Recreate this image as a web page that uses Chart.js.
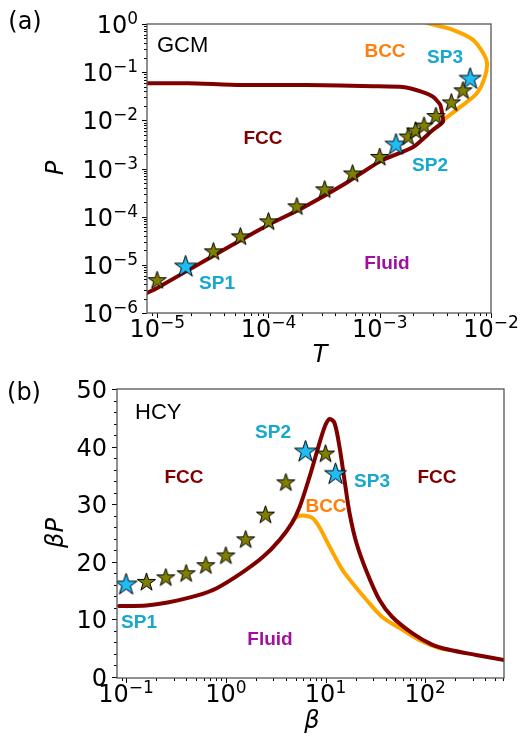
<!DOCTYPE html>
<html>
<head>
<meta charset="utf-8">
<script src="https://cdn.jsdelivr.net/npm/chart.js@4.4.0/dist/chart.umd.min.js"></script>
<style>
    body { margin: 0; background: #fff; width: 524px; height: 736px; position: relative; overflow: hidden; }
    canvas { position: absolute; left: 0; }
    #gcm-chart { top: 0; }
    #hcy-chart { top: 370px; }
</style>
</head>
<body>
<canvas id="gcm-chart" width="524" height="370"></canvas>
<canvas id="hcy-chart" width="524" height="366"></canvas>
<script>
// ---- Panel (a): GCM, P vs T (log-log) ----
const gcmStarT = [1e-5, 3.2e-5, 5.6e-5, 1e-4, 1.8e-4, 3.2e-4, 5.7e-4, 1e-3, 1.8e-3, 2.1e-3, 2.5e-3, 3.2e-3, 4.4e-3, 5.6e-3];
const gcmStarP = [4.7e-6, 1.86e-5, 3.8e-5, 7.8e-5, 1.6e-4, 3.6e-4, 7.7e-4, 1.7e-3, 4.5e-3, 6e-3, 7.6e-3, 1.2e-2, 2.3e-2, 4.1e-2];
const gcmSpT = [1.8e-5, 1.4e-3, 6.5e-3];
const gcmSpP = [9.1e-6, 3.1e-3, 7.2e-2];
const gcmFccT = [8.1e-6, 1e-5, 3.2e-5, 1e-4, 2e-4, 5e-4, 1e-3, 2e-3, 3e-3, 3.7e-3, 3.65e-3, 3.5e-3, 3.0e-3, 2.4e-3, 1.6e-3, 8.7e-4, 2.2e-4, 5.6e-5, 1.9e-5, 8.1e-6];
const gcmFccP = [2.6e-6, 3.3e-6, 1.55e-5, 6.8e-5, 1.5e-4, 5e-4, 1.4e-3, 2.8e-3, 6.3e-3, 9.3e-3, 1.3e-2, 2.1e-2, 3.1e-2, 3.9e-2, 4.9e-2, 5.1e-2, 5.4e-2, 5.4e-2, 5.9e-2, 5.9e-2];
const gcmBccT = [2.5e-3, 2.9e-3, 4.6e-3, 6.9e-3, 8.5e-3, 9.2e-3, 8.8e-3, 7.5e-3, 5.3e-3, 3.7e-3];
const gcmBccP = [1.1, 1.0, 0.75, 0.47, 0.25, 0.155, 0.079, 0.037, 0.019, 0.010];
const gcmTExps = [-5, -4, -3, -2];
const gcmPExps = [-6, -5, -4, -3, -2, -1, 0];

// ---- Panel (b): HCY, beta*P vs beta ----
const hcyStarBeta = [0.16, 0.25, 0.4, 0.63, 1.0, 1.58, 2.5, 4.0, 10];
const hcyStarBP = [16.4, 17.2, 17.9, 19.3, 21.0, 23.8, 28.1, 33.7, 38.7];
const hcySpBeta = [0.1, 6.3, 12.6];
const hcySpBP = [16.0, 39.1, 35.2];
const hcyFccBeta = [0.085, 0.16, 0.26, 0.51, 0.81, 1.48, 2.35, 3.47, 4.6, 5.5, 6.9, 8.3, 9.8, 11, 12.3, 13.8, 15.5, 17.4, 20.4, 25.7, 34.7, 46.8, 74, 117, 174, 324, 620];
const hcyFccBP = [12.3, 12.4, 12.9, 14.1, 15.4, 18.2, 20.8, 23.8, 26.7, 29.5, 34.7, 39.4, 43.4, 44.8, 44.1, 40.0, 34.2, 28.5, 23.3, 18.4, 13.4, 10.4, 7.6, 5.6, 4.7, 3.8, 2.9];
const hcyBccBeta = [4.7, 5.2, 6.2, 7.4, 8.7, 11, 14.5, 18.6, 25.7, 37, 55, 87, 138, 170];
const hcyBccBP = [27.0, 27.8, 28.0, 27.6, 26.0, 22.6, 18.8, 16.3, 13.4, 10.4, 8.5, 6.4, 5.0, 4.7];
const hcyBetaExps = [-1, 0, 1, 2];
const hcyBPTicks = [0, 10, 20, 30, 40, 50];

const MAROON = '#800000';
const ORANGE = '#ffa500';
const SP_COLOR = '#17a8cf';
const BCC_TEXT = '#ff7f0e';
const FLUID_TEXT = '#a0109f';
const TICK_FONT = '"DejaVu Sans", sans-serif';
const NOTE_FONT = '"Liberation Sans", Arial, sans-serif';

// filled five-point star used as point image
function starImage(r, fill) {
    const size = Math.ceil(2 * r + 4);
    const c = document.createElement('canvas');
    c.width = size; c.height = size;
    const g = c.getContext('2d');
    g.translate(size / 2, size / 2);
    g.beginPath();
    for (let i = 0; i < 10; i++) {
        const rad = i % 2 === 0 ? r : r * 0.382;
        const ang = -Math.PI / 2 + i * Math.PI / 5;
        g.lineTo(rad * Math.cos(ang), rad * Math.sin(ang));
    }
    g.closePath();
    g.fillStyle = fill;
    g.fill();
    g.strokeStyle = '#000';
    g.lineWidth = 1;
    g.stroke();
    return c;
}
const oliveStar = starImage(9.5, '#808000');
const blueStar = starImage(11.5, '#1ebdf5');

function pairs(xs, ys) {
    return xs.map((x, i) => ({ x: x, y: ys[i] }));
}

function lineSet(xs, ys, color, order, tension) {
    return { data: pairs(xs, ys), showLine: true, borderColor: color, borderWidth: 4,
             pointRadius: 0, tension: tension, order: order, borderJoinStyle: 'round', borderCapStyle: 'round' };
}

function starSet(xs, ys, img) {
    return { data: pairs(xs, ys), showLine: false, pointStyle: img, pointRadius: 10, order: 0 };
}

function logMinors(min, max) {
    const out = [];
    for (let e = Math.floor(Math.log10(min)); e <= Math.ceil(Math.log10(max)); e++) {
        for (let m = 2; m <= 9; m++) {
            const v = m * Math.pow(10, e);
            if (v >= min && v <= max) out.push(v);
        }
    }
    return out;
}

// "10" with a raised exponent, like matplotlib's log labels
function powLabel(ctx, exp, x, y, align) {
    const base = '10';
    const sup = exp < 0 ? '\u2212' + (-exp) : String(exp);
    ctx.font = '24px ' + TICK_FONT;
    const wb = ctx.measureText(base).width;
    ctx.font = '17px ' + TICK_FONT;
    const ws = ctx.measureText(sup).width;
    const left = align === 'center' ? x - (wb + ws) / 2 : x - (wb + ws);
    ctx.textAlign = 'left';
    ctx.textBaseline = 'alphabetic';
    ctx.font = '24px ' + TICK_FONT;
    ctx.fillText(base, left, y);
    ctx.font = '17px ' + TICK_FONT;
    ctx.fillText(sup, left + wb, y - 9);
}

// frame, outward ticks, labels and notes drawn with the chart scales
const mplAxes = {
    id: 'mplAxes',
    afterDatasetsDraw(chart, args, o) {
        const { ctx, chartArea: a, scales } = chart;
        const xs = scales.x, ys = scales.y;
        ctx.save();
        ctx.strokeStyle = '#000';
        ctx.lineWidth = 1;
        const tick = (x1, y1, x2, y2) => { ctx.beginPath(); ctx.moveTo(x1, y1); ctx.lineTo(x2, y2); ctx.stroke(); };
        o.xMinor.forEach(v => { const x = Math.round(xs.getPixelForValue(v)) + 0.5; tick(x, a.bottom, x, a.bottom + 3); });
        o.yMinor.forEach(v => { const y = Math.round(ys.getPixelForValue(v)) + 0.5; tick(a.left, y, a.left - 3, y); });
        o.xMajor.forEach(v => { const x = Math.round(xs.getPixelForValue(v)) + 0.5; tick(x, a.bottom, x, a.bottom + 5); });
        o.yMajor.forEach(v => { const y = Math.round(ys.getPixelForValue(v)) + 0.5; tick(a.left, y, a.left - 5, y); });

        ctx.strokeStyle = '#555';
        ctx.lineWidth = 1.3;
        ctx.strokeRect(a.left, a.top, a.right - a.left, a.bottom - a.top);

        ctx.fillStyle = '#000';
        o.xMajor.forEach((v, i) => {
            const x = xs.getPixelForValue(v);
            powLabel(ctx, o.xExps[i], x, a.bottom + 24, 'center');
        });
        o.yMajor.forEach((v, i) => {
            const y = ys.getPixelForValue(v);
            if (o.yExps) {
                powLabel(ctx, o.yExps[i], a.left - 9, y + 9, 'right');
            } else {
                ctx.font = '24px ' + TICK_FONT;
                ctx.textAlign = 'right';
                ctx.textBaseline = 'alphabetic';
                ctx.fillText(String(v), a.left - 10, y + 9);
            }
        });

        // axis titles
        ctx.font = 'italic 24px ' + TICK_FONT;
        ctx.textAlign = 'center';
        ctx.textBaseline = 'middle';
        ctx.fillText(o.xTitle, o.xTitlePos[0], o.xTitlePos[1]);
        ctx.save();
        ctx.translate(o.yTitlePos[0], o.yTitlePos[1]);
        ctx.rotate(-Math.PI / 2);
        ctx.fillText(o.yTitle, 0, 0);
        ctx.restore();

        ctx.font = '24px ' + TICK_FONT;
        ctx.fillText(o.panel, o.panelPos[0], o.panelPos[1]);

        o.notes.forEach(n => {
            ctx.font = (n.bold ? 'bold 19px ' : '22px ') + NOTE_FONT;
            ctx.fillStyle = n.color;
            ctx.textAlign = n.align || 'center';
            ctx.textBaseline = 'middle';
            ctx.fillText(n.text, n.x, n.y);
        });
        ctx.restore();
    }
};

function makeChart(id, datasets, scales, padding, axesOpts) {
    return new Chart(document.getElementById(id), {
        type: 'scatter',
        data: { datasets: datasets },
        options: {
            responsive: false,
            animation: false,
            layout: { padding: padding },
            scales: scales,
            plugins: { legend: { display: false }, tooltip: { enabled: false }, mplAxes: axesOpts }
        },
        plugins: [mplAxes]
    });
}

// Panel (a)
const gcmXMin = 8.1e-6, gcmXMax = 1e-2, gcmYMin = 1e-6, gcmYMax = 1;
makeChart('gcm-chart', [
    starSet(gcmStarT, gcmStarP, oliveStar),
    starSet(gcmSpT, gcmSpP, blueStar),
    lineSet(gcmFccT, gcmFccP, MAROON, 1, 0.2),
    lineSet(gcmBccT, gcmBccP, ORANGE, 2, 0.3)
], {
    x: { type: 'logarithmic', min: gcmXMin, max: gcmXMax, display: false },
    y: { type: 'logarithmic', min: gcmYMin, max: gcmYMax, display: false }
}, { left: 147, top: 24, right: 33, bottom: 57 }, {
    xMajor: gcmTExps.map(e => Math.pow(10, e)), xExps: gcmTExps,
    yMajor: gcmPExps.map(e => Math.pow(10, e)), yExps: gcmPExps,
    xMinor: logMinors(gcmXMin, gcmXMax), yMinor: logMinors(gcmYMin, gcmYMax),
    xTitle: 'T', xTitlePos: [320, 356], yTitle: 'P', yTitlePos: [57, 168],
    panel: '(a)', panelPos: [25, 23],
    notes: [
        { text: 'GCM', x: 157, y: 46, color: '#000', align: 'left' },
        { text: 'BCC', x: 385, y: 52, color: BCC_TEXT, bold: true },
        { text: 'SP3', x: 445, y: 58, color: SP_COLOR, bold: true },
        { text: 'FCC', x: 263, y: 139, color: MAROON, bold: true },
        { text: 'SP2', x: 430, y: 166, color: SP_COLOR, bold: true },
        { text: 'SP1', x: 217, y: 284, color: SP_COLOR, bold: true },
        { text: 'Fluid', x: 387, y: 264, color: FLUID_TEXT, bold: true }
    ]
});

// Panel (b)
const hcyXMin = 0.081, hcyXMax = 617, hcyYMin = -0.2, hcyYMax = 50;
const hcyYMinor = [];
for (let v = 2; v < 50; v += 2) if (v % 10) hcyYMinor.push(v);
makeChart('hcy-chart', [
    starSet(hcyStarBeta, hcyStarBP, oliveStar),
    starSet(hcySpBeta, hcySpBP, blueStar),
    lineSet(hcyFccBeta, hcyFccBP, MAROON, 1, 0.3),
    lineSet(hcyBccBeta, hcyBccBP, ORANGE, 2, 0.3)
], {
    x: { type: 'logarithmic', min: hcyXMin, max: hcyXMax, display: false },
    y: { type: 'linear', min: hcyYMin, max: hcyYMax, display: false }
}, { left: 117, top: 19, right: 20, bottom: 58 }, {
    xMajor: hcyBetaExps.map(e => Math.pow(10, e)), xExps: hcyBetaExps,
    yMajor: hcyBPTicks,
    xMinor: logMinors(hcyXMin, hcyXMax), yMinor: hcyYMinor,
    xTitle: '\u03b2', xTitlePos: [312, 352], yTitle: '\u03b2P', yTitlePos: [57, 163],
    panel: '(b)', panelPos: [24, 24],
    notes: [
        { text: 'HCY', x: 135, y: 43, color: '#000', align: 'left' },
        { text: 'SP2', x: 273, y: 63, color: SP_COLOR, bold: true },
        { text: 'FCC', x: 184, y: 108, color: MAROON, bold: true },
        { text: 'SP3', x: 372, y: 112, color: SP_COLOR, bold: true },
        { text: 'FCC', x: 437, y: 108, color: MAROON, bold: true },
        { text: 'BCC', x: 326, y: 137, color: BCC_TEXT, bold: true },
        { text: 'SP1', x: 139, y: 253, color: SP_COLOR, bold: true },
        { text: 'Fluid', x: 270, y: 270, color: FLUID_TEXT, bold: true }
    ]
});
</script>
</body>
</html>
